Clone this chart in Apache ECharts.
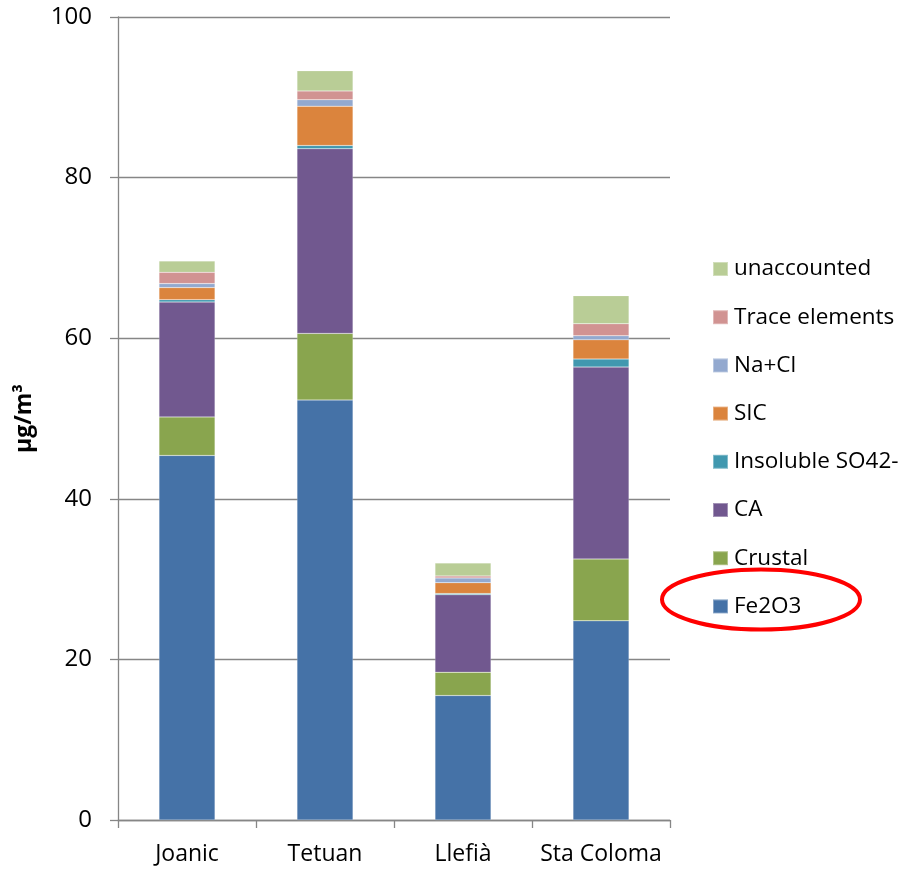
<!DOCTYPE html>
<html>
<head>
<meta charset="utf-8">
<script src="https://cdn.jsdelivr.net/npm/echarts@6/dist/echarts.min.js"></script>
<style>
  html, body { margin: 0; padding: 0; background: #fff; }
  #chart { width: 905px; height: 869px; }
</style>
</head>
<body>
<div id="chart"></div>
<script>
// Sites and mass contributions (µg/m³) per component
const categories = ['Joanic', 'Tetuan', 'Llefià', 'Sta Coloma'];
const fe2o3 = [45.4, 52.3, 15.5, 24.8];
const crustal = [4.8, 8.3, 2.9, 7.7];
const ca = [14.3, 23.0, 9.65, 23.9];
const insolubleSO4 = [0.3, 0.4, 0.15, 1.0];
const sic = [1.5, 4.9, 1.35, 2.4];
const naCl = [0.5, 0.8, 0.6, 0.5];
const traceElements = [1.4, 1.1, 0.25, 1.5];
const unaccounted = [1.4, 2.5, 1.6, 3.5];
const yTicks = [0, 20, 40, 60, 80, 100];

const FONT = 'Open Sans';

const seriesDefs = [
  { name: 'Fe2O3', data: fe2o3, color: '#4572A7' },
  { name: 'Crustal', data: crustal, color: '#89A54E' },
  { name: 'CA', data: ca, color: '#71588F' },
  { name: 'Insoluble SO42-', data: insolubleSO4, color: '#4198AF' },
  { name: 'SIC', data: sic, color: '#DB843D' },
  { name: 'Na+Cl', data: naCl, color: '#93A9CF' },
  { name: 'Trace elements', data: traceElements, color: '#D19392' },
  { name: 'unaccounted', data: unaccounted, color: '#B9CD96' }
];

const chart = echarts.init(document.getElementById('chart'), null, { renderer: 'canvas' });

chart.setOption({
  animation: false,
  backgroundColor: '#ffffff',
  grid: { left: 118, right: 235, top: 17, bottom: 49, containLabel: false },
  legend: {
    orient: 'vertical',
    left: 712,
    top: 257,
    padding: 0,
    itemWidth: 15,
    itemHeight: 14,
    itemGap: 24.2,
    icon: 'rect',
    textStyle: { fontFamily: FONT, fontSize: 22.5, color: '#000', lineHeight: 24, padding: [0, 0, 0, 1] },
    data: seriesDefs.map(s => s.name).slice().reverse()
  },
  xAxis: {
    type: 'category',
    data: categories,
    axisLine: { lineStyle: { color: '#868686', width: 1.3 } },
    axisTick: { show: true, length: 8, interval: 0, alignWithLabel: false, lineStyle: { color: '#868686', width: 1.3 } },
    axisLabel: { interval: 0, fontFamily: FONT, fontSize: 23, color: '#000', margin: 23 }
  },
  yAxis: {
    type: 'value',
    min: yTicks[0],
    max: yTicks[yTicks.length - 1],
    interval: 20,
    name: 'µg/m³',
    nameLocation: 'middle',
    nameRotate: 90,
    nameGap: 82,
    nameTextStyle: { fontFamily: FONT, fontSize: 23, fontWeight: 'bold', color: '#000' },
    axisLine: { show: true, lineStyle: { color: '#868686', width: 1.3 } },
    axisTick: { show: true, length: 8, lineStyle: { color: '#868686', width: 1.3 } },
    axisLabel: { fontFamily: FONT, fontSize: 24, color: '#000', margin: 26 },
    splitLine: { show: true, lineStyle: { color: '#868686', width: 1.3 } }
  },
  series: seriesDefs.map(s => ({
    name: s.name,
    type: 'bar',
    stack: 'total',
    barWidth: 56,
    data: s.data,
    itemStyle: { color: s.color, borderColor: 'rgba(255,255,255,0.35)', borderWidth: 0.5 },
    emphasis: { disabled: true }
  })),
  graphic: [{
    type: 'ellipse',
    shape: { cx: 761, cy: 599.5, rx: 99, ry: 30 },
    style: { fill: 'none', stroke: '#ff0000', lineWidth: 4 },
    z: 100
  }]
});
</script>
</body>
</html>
